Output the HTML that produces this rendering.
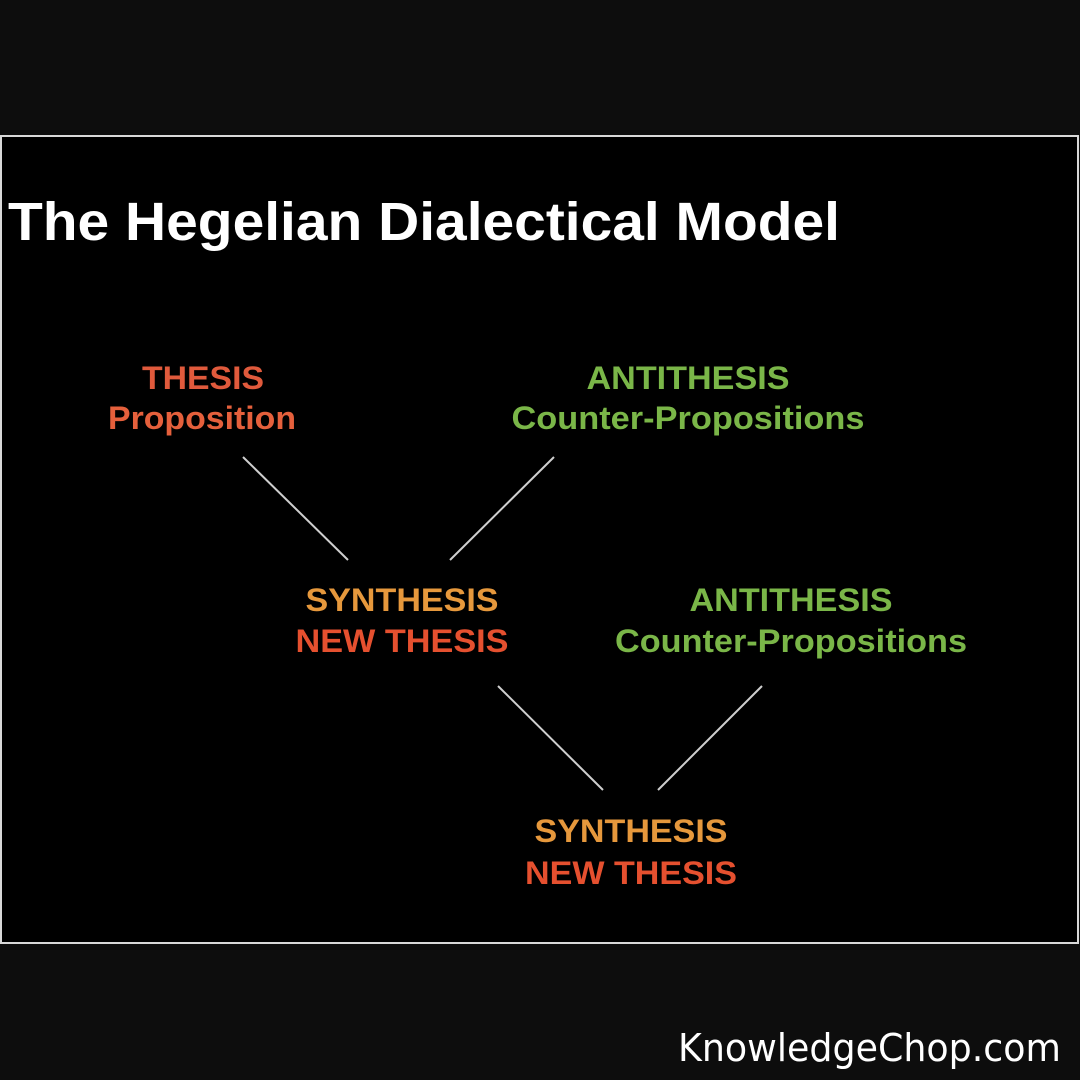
<!DOCTYPE html>
<html><head><meta charset="utf-8"><style>
html,body{margin:0;padding:0;background:#0d0d0d;}
svg{display:block}
</style></head><body>
<svg width="1080" height="1080" viewBox="0 0 1080 1080" xmlns="http://www.w3.org/2000/svg">
<rect width="1080" height="1080" fill="#0d0d0d"/>
<rect x="1" y="136" width="1077" height="807" fill="#000" stroke="#d8d8d8" stroke-width="2"/>
<g font-family="Liberation Sans, Arial, sans-serif" font-weight="bold">
<text x="8" y="240" font-size="54" fill="#fff" textLength="832" lengthAdjust="spacingAndGlyphs">The Hegelian Dialectical Model</text>
<g font-size="32" text-anchor="middle">
<text x="203" y="389" fill="#e05a3c" textLength="122" lengthAdjust="spacingAndGlyphs">THESIS</text>
<text x="202" y="429" fill="#e5603c" textLength="188" lengthAdjust="spacingAndGlyphs">Proposition</text>
<text x="688" y="389" fill="#7ab648" textLength="203" lengthAdjust="spacingAndGlyphs">ANTITHESIS</text>
<text x="688" y="429" fill="#7ab648" textLength="353" lengthAdjust="spacingAndGlyphs">Counter-Propositions</text>
<text x="402" y="611" fill="#e6983c" textLength="193" lengthAdjust="spacingAndGlyphs">SYNTHESIS</text>
<text x="402" y="652" fill="#e5502f" textLength="213" lengthAdjust="spacingAndGlyphs">NEW THESIS</text>
<text x="791" y="611" fill="#7ab648" textLength="203" lengthAdjust="spacingAndGlyphs">ANTITHESIS</text>
<text x="791" y="652" fill="#7ab648" textLength="352" lengthAdjust="spacingAndGlyphs">Counter-Propositions</text>
<text x="631" y="842" fill="#e6983c" textLength="193" lengthAdjust="spacingAndGlyphs">SYNTHESIS</text>
<text x="631" y="884" fill="#e5502f" textLength="212" lengthAdjust="spacingAndGlyphs">NEW THESIS</text>
</g>
</g>
<g stroke="#cfcfcf" stroke-width="2">
<line x1="243" y1="457" x2="348" y2="560"/>
<line x1="554" y1="457" x2="450" y2="560"/>
<line x1="498" y1="686" x2="603" y2="790"/>
<line x1="762" y1="686" x2="658" y2="790"/>
</g>
<text x="678" y="1061" font-family="DejaVu Sans, sans-serif" font-size="38" fill="#fff" textLength="383" lengthAdjust="spacingAndGlyphs">KnowledgeChop.com</text>
</svg>
</body></html>
